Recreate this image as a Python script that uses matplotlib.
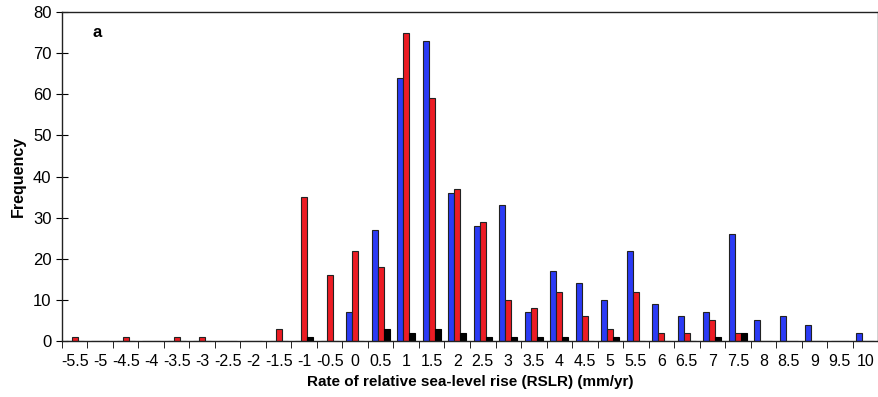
import numpy as np
import matplotlib
matplotlib.use("Agg")
from matplotlib import pyplot as plt

plt.rcParams['font.family'] = ['Liberation Sans Narrow', 'Liberation Sans', 'DejaVu Sans']

# rate bins (mm/yr)
rates = ["-5.5", "-5", "-4.5", "-4", "-3.5", "-3", "-2.5", "-2", "-1.5", "-1", "-0.5",
         "0", "0.5", "1", "1.5", "2", "2.5", "3", "3.5", "4", "4.5", "5", "5.5",
         "6", "6.5", "7", "7.5", "8", "8.5", "9", "9.5", "10"]
blue = [0, 0, 0, 0, 0, 0, 0, 0, 0, 0, 0,
        7, 27, 64, 73, 36, 28, 33, 7, 17, 14, 10, 22,
        9, 6, 7, 26, 5, 6, 4, 0, 2]
red = [1, 0, 1, 0, 1, 1, 0, 0, 3, 35, 16,
       22, 18, 75, 59, 37, 29, 10, 8, 12, 6, 3, 12,
       2, 2, 5, 2, 0, 0, 0, 0, 0]
black = [0, 0, 0, 0, 0, 0, 0, 0, 0, 1, 0,
         0, 3, 2, 3, 2, 1, 1, 1, 1, 0, 1, 0,
         0, 0, 1, 2, 0, 0, 0, 0, 0]

x = np.arange(len(rates))
w = 0.235

fig = plt.figure(figsize=(8.79, 3.97), dpi=100)
ax = fig.add_axes([0.0705, 0.141, 0.9284, 0.8288])

ax.bar(x - w, blue, w, color="#2B3BF5", edgecolor="#222222", linewidth=0.8)
ax.bar(x, red, w, color="#EC1C24", edgecolor="#222222", linewidth=0.8)
ax.bar(x + w, black, w, color="black", edgecolor="black", linewidth=0.8)

ax.set_xlim(-0.5, len(rates) - 0.5)
ax.set_ylim(0, 80)
ax.set_yticks(range(0, 81, 10))
ax.set_xticks(x)
ax.set_xticklabels(rates)
ax.set_xticks(np.arange(-0.5, len(rates), 1), minor=True)
ax.tick_params(axis="x", which="major", length=0, labelsize=11.5, pad=9)
ax.tick_params(axis="x", which="minor", length=5, direction="out")
ax.tick_params(axis="y", length=8, direction="inout", labelsize=12)

for s in ax.spines.values():
    s.set_linewidth(1.0)
    s.set_color("#222222")

ax.set_xlabel("Rate of relative sea-level rise (RSLR) (mm/yr)", fontsize=11, fontweight="bold", labelpad=5)
ax.set_ylabel("Frequency", fontsize=11.5, fontweight="bold", labelpad=5)
ax.text(0.037, 0.925, "a", transform=ax.transAxes, fontsize=12, fontweight="bold")

fig.savefig("out.png", dpi=100)
